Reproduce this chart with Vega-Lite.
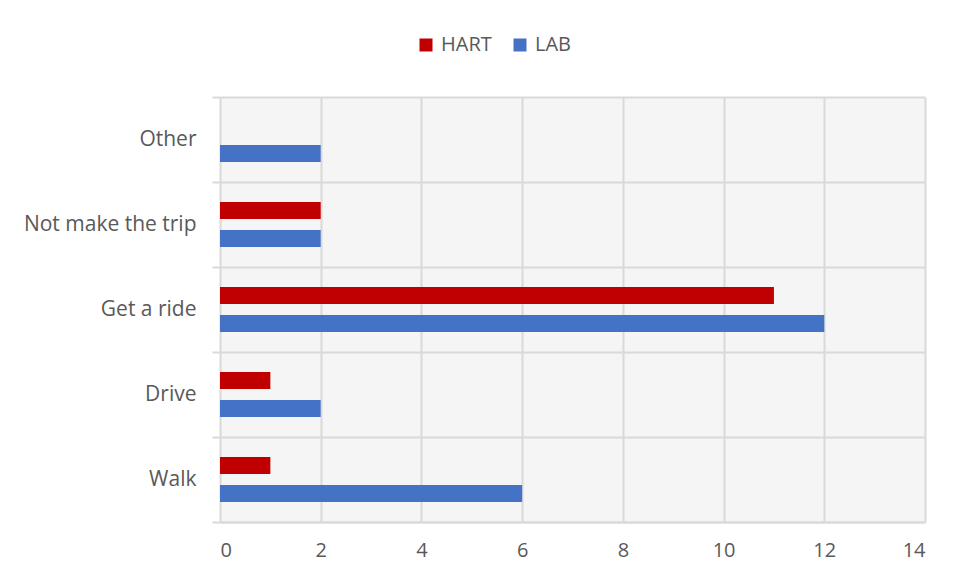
{
  "$schema": "https://vega.github.io/schema/vega-lite/v6.json",
  "autosize": "none",
  "width": 705,
  "height": 425,
  "padding": {"left": 220, "top": 97, "right": 31, "bottom": 57},
  "background": "white",
  "data": {
    "values": [
      {"mode": "Other", "group": "HART", "count": 0},
      {"mode": "Other", "group": "LAB", "count": 2},
      {"mode": "Not make the trip", "group": "HART", "count": 2},
      {"mode": "Not make the trip", "group": "LAB", "count": 2},
      {"mode": "Get a ride", "group": "HART", "count": 11},
      {"mode": "Get a ride", "group": "LAB", "count": 12},
      {"mode": "Drive", "group": "HART", "count": 1},
      {"mode": "Drive", "group": "LAB", "count": 2},
      {"mode": "Walk", "group": "HART", "count": 1},
      {"mode": "Walk", "group": "LAB", "count": 6}
    ]
  },
  "mark": {"type": "bar"},
  "encoding": {
    "y": {
      "field": "mode",
      "type": "nominal",
      "sort": ["Other", "Not make the trip", "Get a ride", "Drive", "Walk"],
      "scale": {"paddingInner": 0, "paddingOuter": 0},
      "axis": {
        "title": null,
        "bandPosition": 1,
        "tickExtra": true,
        "domain": false,
        "ticks": true,
        "tickSize": 8,
        "tickColor": "#d9d9d9",
        "tickWidth": 2,
        "grid": true,
        "gridColor": "#d9d9d9",
        "gridWidth": 2,
        "labelFont": "Open Sans",
        "labelFontSize": 21,
        "labelColor": "#595959",
        "labelPadding": 16
      }
    },
    "yOffset": {
      "field": "group",
      "type": "nominal",
      "sort": ["HART", "LAB"],
      "scale": {"paddingInner": 0.393, "paddingOuter": 0.714}
    },
    "x": {
      "field": "count",
      "type": "quantitative",
      "scale": {"domain": [0, 14], "nice": false},
      "axis": {
        "title": null,
        "values": [0, 2, 4, 6, 8, 10, 12, 14],
        "domain": true,
        "domainColor": "#d9d9d9",
        "domainWidth": 2,
        "ticks": false,
        "grid": true,
        "gridColor": "#d9d9d9",
        "gridWidth": 2,
        "labelFont": "Open Sans",
        "labelFontSize": 20,
        "labelColor": "#595959",
        "labelPadding": 18
      }
    },
    "color": {
      "field": "group",
      "type": "nominal",
      "scale": {"domain": ["HART", "LAB"], "range": ["#C00000", "#4472C4"]},
      "legend": {
        "title": null,
        "orient": "none",
        "direction": "horizontal",
        "legendX": 196,
        "legendY": -62,
        "symbolType": "square",
        "symbolSize": 169,
        "symbolStrokeWidth": 0,
        "labelFont": "Open Sans",
        "labelFontSize": 20,
        "labelColor": "#595959",
        "labelOffset": 5,
        "columnPadding": 18
      }
    }
  },
  "config": {
    "view": {"stroke": null, "fill": "#f5f5f5"}
  }
}
